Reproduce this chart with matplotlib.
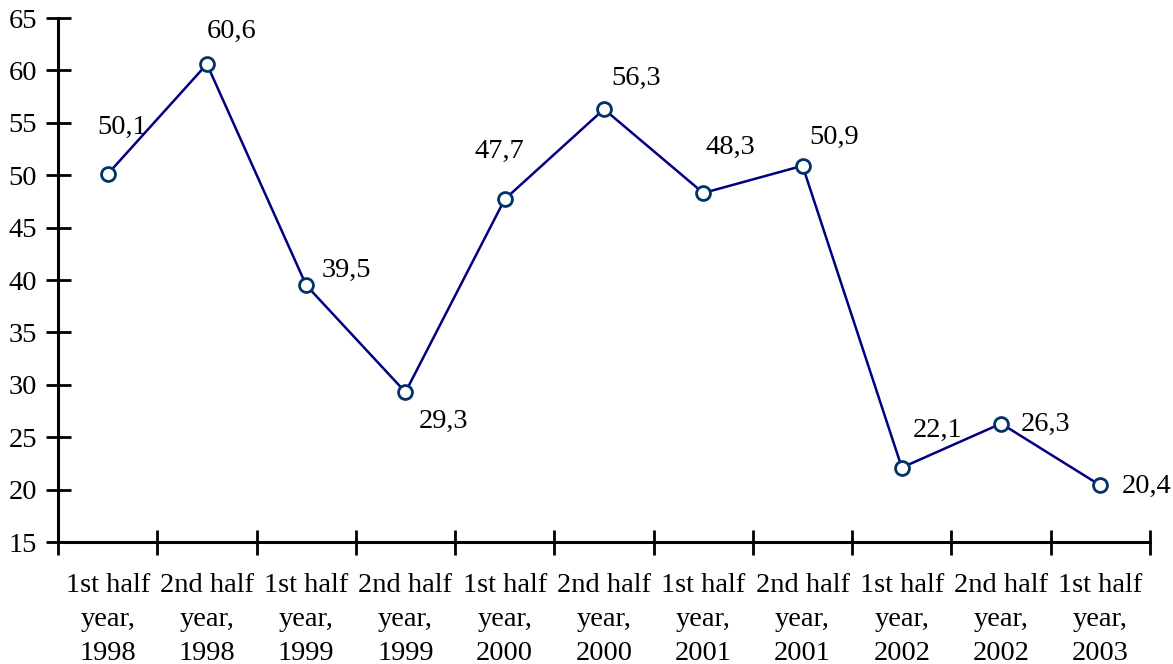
import matplotlib
matplotlib.use("Agg")
import matplotlib.pyplot as plt

categories = ["1st half\nyear,\n1998", "2nd half\nyear,\n1998", "1st half\nyear,\n1999",
              "2nd half\nyear,\n1999", "1st half\nyear,\n2000", "2nd half\nyear,\n2000",
              "1st half\nyear,\n2001", "2nd half\nyear,\n2001", "1st half\nyear,\n2002",
              "2nd half\nyear,\n2002", "1st half\nyear,\n2003"]
values = [50.1, 60.6, 39.5, 29.3, 47.7, 56.3, 48.3, 50.9, 22.1, 26.3, 20.4]
value_labels = ["50,1", "60,6", "39,5", "29,3", "47,7", "56,3", "48,3", "50,9", "22,1", "26,3", "20,4"]
y_ticks = [15, 20, 25, 30, 35, 40, 45, 50, 55, 60, 65]

# label offsets in pixels (dx, dy) relative to each point (layout only)
label_offsets = [(14, 47), (25, 33), (40, 15), (38, -29), (-5, 48), (32, 31),
                 (27, 46), (32, 28), (36, 37), (44, -1), (46, -1)]

plt.rcParams['font.family'] = ['Liberation Serif', 'DejaVu Serif']
FS = 20.5

W, H = 1173, 664
fig = plt.figure(figsize=(W / 100, H / 100), dpi=100)
ax = fig.add_axes([58 / W, 1 - 542 / H, (1150 - 58) / W, (542 - 18) / H])

n = len(values)
xs = list(range(n))
ax.plot(xs, values, color='#000080', lw=1.8, marker='o', ms=10,
        mfc='white', mec='#003366', mew=2, zorder=3, clip_on=False)

for x, v, lab, (dx, dy) in zip(xs, values, value_labels, label_offsets):
    ax.annotate(lab, (x, v), xytext=(dx, dy), textcoords='offset pixels',
                ha='center', va='center', fontsize=FS, color='black')

ax.set_xlim(-0.5, n - 0.5)
ax.set_ylim(15, 65)
ax.set_yticks(y_ticks)
ax.set_yticklabels([str(t) for t in y_ticks], fontsize=FS)

# x ticks at category boundaries, labels at category centres
ax.set_xticks([i - 0.5 for i in range(n + 1)])
ax.set_xticklabels([])
ax.set_xticks(xs, minor=True)
ax.set_xticklabels(categories, minor=True, fontsize=FS, linespacing=1.48)
ax.tick_params(axis='x', which='minor', length=0, pad=22)
ax.tick_params(axis='x', which='major', direction='inout', length=18, width=2, color='black')
ax.tick_params(axis='y', direction='inout', length=18, width=2, color='black', pad=6)

for s in ['top', 'right']:
    ax.spines[s].set_visible(False)
for s in ['left', 'bottom']:
    ax.spines[s].set_linewidth(2.2)
    ax.spines[s].set_color('black')

fig.savefig('out.png', dpi=100)
